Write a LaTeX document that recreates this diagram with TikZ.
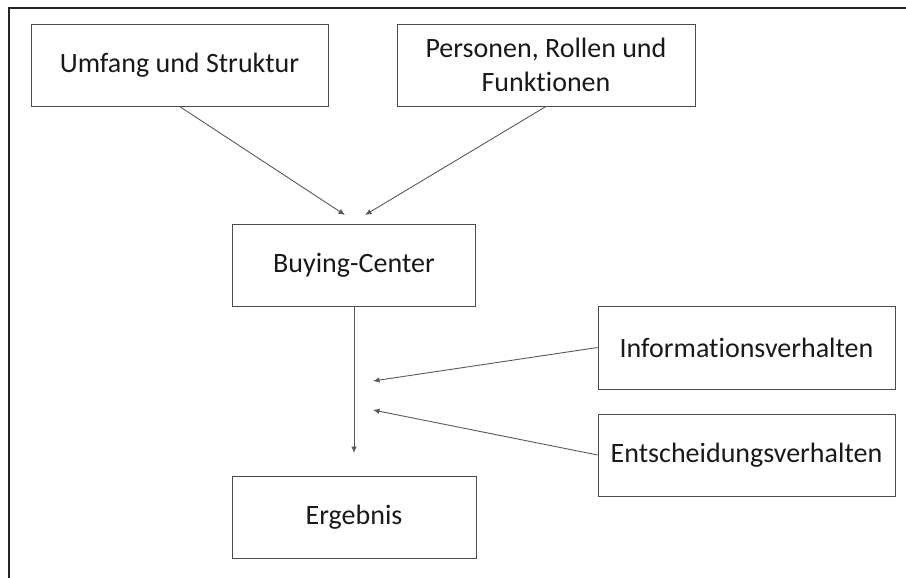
\documentclass[tikz,border=0pt]{standalone}
\usepackage{fontspec}
\setmainfont{Carlito}[Ligatures={NoCommon}]
\usetikzlibrary{arrows.meta}
\begin{document}
\begin{tikzpicture}[x=1pt,y=-1pt,
  frame/.style={line width=1.8pt,draw=black!85},
  box/.style={draw=black!70,line width=0.9pt,inner sep=0pt,align=center,
    font=\fontsize{28}{34}\selectfont,text=black!90},
  arr/.style={draw=black!65,line width=0.9pt,-{Latex[length=6.5pt,width=5.5pt]}}]
\useasboundingbox (0,0) rectangle (906,578);
% outer frame (top and left edges)
\draw[frame] (906,8) -- (9,8) -- (9,578);
% boxes
\node[box,minimum width=297pt,minimum height=82pt] (umfang) at (179.5,65) {Umfang und Struktur};
\node[box,minimum width=298pt,minimum height=82pt] (personen) at (546,65) {Personen, Rollen und\\Funktionen};
\node[box,minimum width=243pt,minimum height=82pt] (buying) at (354,265) {Buying-Center};
\node[box,minimum width=244pt,minimum height=82pt] (ergebnis) at (354,517.5) {Ergebnis};
\node[box,minimum width=297pt,minimum height=83pt] (info) at (746.5,347.5) {Informationsverhalten};
\node[box,minimum width=297pt,minimum height=82pt] (entsch) at (746.5,455) {Entscheidungsverhalten};
% free arrow ends
\coordinate (t1) at (345,215);
\coordinate (t2) at (365,215);
\coordinate (t3) at (354,453);
\coordinate (t4) at (373,381);
\coordinate (t5) at (373,410);
% connectors
\draw[arr] (umfang.south) -- (t1);
\draw[arr] (personen.south) -- (t2);
\draw[arr] (buying.south) -- (t3);
\draw[arr] (info.west) -- (t4);
\draw[arr] (entsch.west) -- (t5);
\end{tikzpicture}
\end{document}
